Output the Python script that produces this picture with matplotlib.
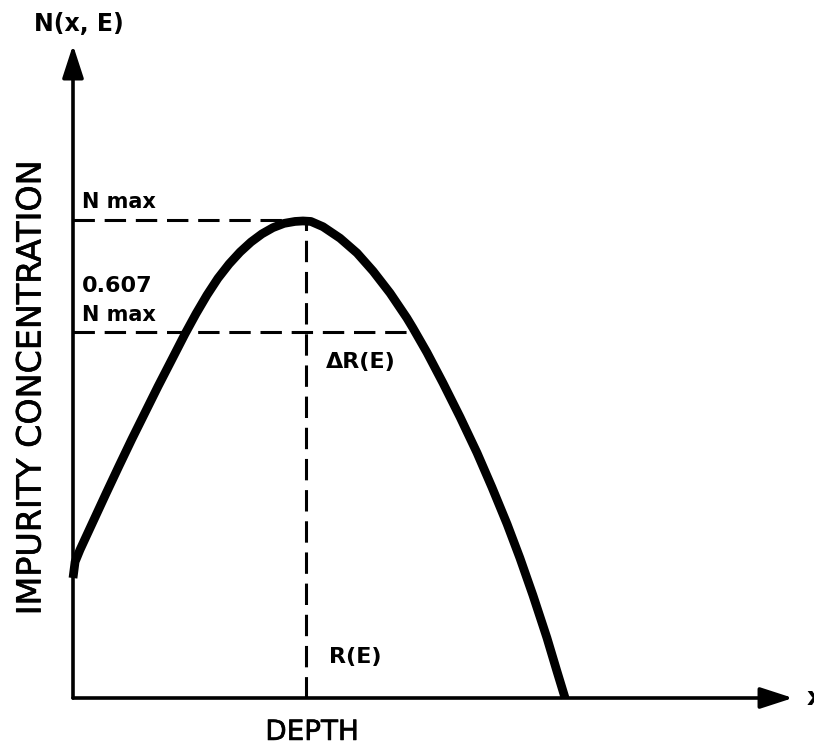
import matplotlib
matplotlib.use("Agg")
import matplotlib.pyplot as plt
from matplotlib.patches import FancyArrowPatch
import matplotlib.patheffects as pe

# ---- data (depth in units of R(E), concentration in units of Nmax) ----
depth = [0.000, 0.009, 0.030, 0.086, 0.142, 0.197, 0.253, 0.309, 0.365, 0.421,
         0.481, 0.528, 0.575, 0.622, 0.670, 0.717, 0.764, 0.811, 0.858, 0.906,
         0.953, 0.987, 1.021, 1.073, 1.146, 1.219, 1.288, 1.361, 1.433, 1.459,
         1.519, 1.588, 1.661, 1.734, 1.798, 1.863, 1.918, 1.974, 2.034, 2.077,
         2.112]
conc = [0.251, 0.285, 0.310, 0.369, 0.428, 0.485, 0.542, 0.597, 0.652, 0.705,
        0.762, 0.804, 0.843, 0.878, 0.908, 0.933, 0.954, 0.971, 0.984, 0.993,
        0.997, 0.998, 0.997, 0.986, 0.962, 0.931, 0.893, 0.847, 0.795, 0.774,
        0.723, 0.659, 0.588, 0.513, 0.441, 0.364, 0.293, 0.215, 0.126, 0.056,
        0.000]
n_max = 1.0
level_607 = 0.766          # drawn height of the 0.607 Nmax line
range_R = 1.0              # projected range R(E)
level_607_right = 1.450    # right end of the 0.607 line
nmax_line_end = 0.93

fig = plt.figure(figsize=(8.14, 7.48), dpi=100)
ax = fig.add_axes([0, 0, 1, 1])
ax.set_xlim(-0.3133, 3.1803)
ax.set_ylim(-0.1046, 1.4603)
ax.axis("off")

# profile curve
ax.plot(depth, conc, color="black", lw=6.3, solid_capstyle="butt",
        solid_joinstyle="round")

# dashed guide lines
dash = dict(color="black", lw=2.2, linestyle=(0, (7, 3.2)))
ax.plot([0, nmax_line_end], [n_max, n_max], **dash)
ax.plot([0, level_607_right], [level_607, level_607], **dash)
ax.plot([range_R, range_R], [0, n_max], **dash)

# axes with arrows
astyle = "-|>,head_length=20,head_width=6.5"
for start, end in [((0, 0), (0, 1.366)), ((0, 0), (3.090, 0))]:
    ax.add_patch(FancyArrowPatch(start, end, arrowstyle=astyle,
                                 mutation_scale=1, color="black", lw=2.6,
                                 shrinkA=0, shrinkB=0))

thick = [pe.withStroke(linewidth=0.45, foreground="black")]

# texts
ax.text(0.026, 1.410, "N(x, E)", ha="center", va="center",
        fontsize=17, fontweight="bold")
ax.text(-0.180, 0.649, "IMPURITY CONCENTRATION", ha="center", va="center",
        rotation=90, fontsize=24, path_effects=thick)
ax.text(0.039, 1.037, "N max", ha="left", va="center", fontsize=15,
        fontweight="bold")
ax.text(0.039, 0.862, "0.607", ha="left", va="center", fontsize=16,
        fontweight="bold")
ax.text(0.039, 0.801, "N max", ha="left", va="center", fontsize=15,
        fontweight="bold")
ax.text(1.086, 0.703, "ΔR(E)", ha="left", va="center", fontsize=16,
        fontweight="bold")
ax.text(1.099, 0.086, "R(E)", ha="left", va="center", fontsize=16,
        fontweight="bold")
ax.text(1.026, -0.071, "DEPTH", ha="center", va="center", fontsize=20,
        path_effects=thick)
ax.text(3.150, 0.0, "x", ha="left", va="center", fontsize=18,
        fontweight="bold")

fig.savefig("out.png", dpi=100)
